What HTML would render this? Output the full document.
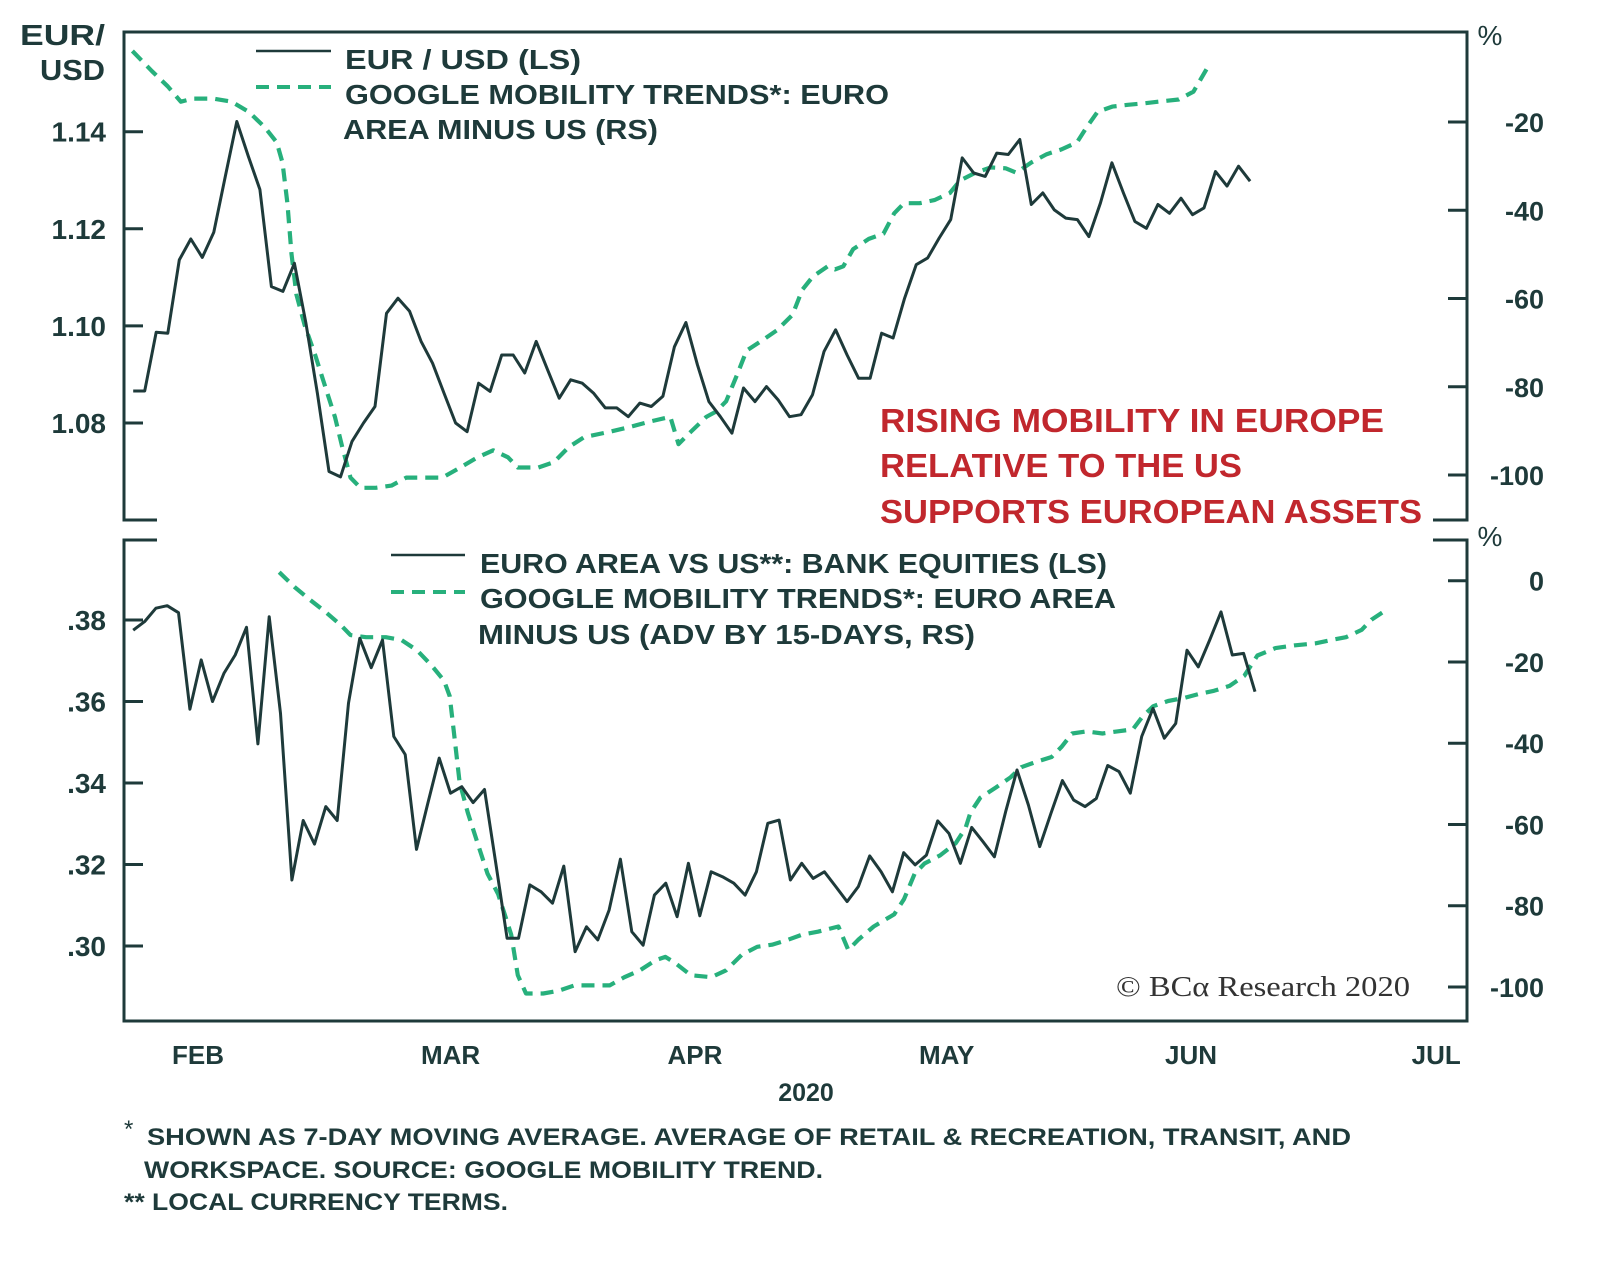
<!DOCTYPE html>
<html><head><meta charset="utf-8"><style>
html,body{margin:0;padding:0;background:#fff;}
svg{display:block;}
text{font-family:"Liberation Sans",sans-serif;}
</style></head><body>
<svg id="chart" width="1600" height="1265" viewBox="0 0 1600 1265" xmlns="http://www.w3.org/2000/svg">
<g stroke="#1e3a3a" stroke-width="3" fill="none">
<polyline points="157,520 124,520 124,32 1467,32 1467,520 1433,520"/>
<polyline points="157,540 124,540 124,1021 1467,1021 1467,540 1433,540"/>
</g>
<g id="axes"></g>
<g id="series"></g>
<g fill="#1e3a3a" font-weight="bold">
<text x="20" y="45" font-size="29" textLength="85" lengthAdjust="spacingAndGlyphs">EUR/</text>
<text x="40" y="80" font-size="29" textLength="65" lengthAdjust="spacingAndGlyphs">USD</text>
<text x="1490" y="45" font-size="28" text-anchor="middle" font-weight="normal">%</text>
<text x="1490" y="546" font-size="28" text-anchor="middle" font-weight="normal">%</text>
<line x1="256" y1="51" x2="331" y2="51" stroke="#1e3a3a" stroke-width="2.5"/>
<line x1="256" y1="87" x2="331" y2="87" stroke="#27b07c" stroke-width="4" stroke-dasharray="13,8"/>
<text x="345" y="69" font-size="28" textLength="236" lengthAdjust="spacingAndGlyphs">EUR / USD (LS)</text>
<text x="345" y="104" font-size="28" textLength="544" lengthAdjust="spacingAndGlyphs">GOOGLE MOBILITY TRENDS*: EURO</text>
<text x="343" y="139" font-size="28" textLength="315" lengthAdjust="spacingAndGlyphs">AREA MINUS US (RS)</text>
<line x1="391" y1="555" x2="465" y2="555" stroke="#1e3a3a" stroke-width="2.5"/>
<line x1="391" y1="592" x2="465" y2="592" stroke="#27b07c" stroke-width="4" stroke-dasharray="13,8"/>
<text x="480" y="573" font-size="28" textLength="627" lengthAdjust="spacingAndGlyphs">EURO AREA VS US**: BANK EQUITIES (LS)</text>
<text x="480" y="608" font-size="28" textLength="636" lengthAdjust="spacingAndGlyphs">GOOGLE MOBILITY TRENDS*: EURO AREA</text>
<text x="478" y="644" font-size="28" textLength="497" lengthAdjust="spacingAndGlyphs">MINUS US (ADV BY 15-DAYS, RS)</text>
<g fill="#c1272d" font-size="33">
<text x="880" y="432" textLength="504" lengthAdjust="spacingAndGlyphs">RISING MOBILITY IN EUROPE</text>
<text x="880" y="477" textLength="362" lengthAdjust="spacingAndGlyphs">RELATIVE TO THE US</text>
<text x="880" y="523" textLength="542" lengthAdjust="spacingAndGlyphs">SUPPORTS EUROPEAN ASSETS</text>
</g>
<text x="1116" y="996" font-size="28" font-weight="normal" fill="#333" style="font-family:'Liberation Serif',serif" textLength="294" lengthAdjust="spacingAndGlyphs">© BCα Research 2020</text>
<text x="806" y="1101" font-size="25" text-anchor="middle">2020</text>
<g font-size="24" font-weight="normal">
<text x="124" y="1137">*</text>
<text x="147" y="1145" textLength="1204" lengthAdjust="spacingAndGlyphs" font-weight="bold">SHOWN AS 7-DAY MOVING AVERAGE. AVERAGE OF RETAIL &amp; RECREATION, TRANSIT, AND</text>
<text x="144" y="1178" textLength="679" lengthAdjust="spacingAndGlyphs" font-weight="bold">WORKSPACE. SOURCE: GOOGLE MOBILITY TREND.</text>
<text x="124" y="1210" textLength="384" lengthAdjust="spacingAndGlyphs" font-weight="bold">** LOCAL CURRENCY TERMS.</text>
</g>
</g>
</svg>
<script>
// ---- data ----
const eurStartDay = 23.1, eurEndDay = 159.3;
const eurUsd = [1.0866,1.0866,1.0987,1.0985,1.1136,1.1179,1.1141,1.1193,1.1308,1.1421,1.1349,1.1281,1.1081,1.1071,1.1129,1.1006,1.0861,1.0700,1.0689,1.0762,1.0800,1.0834,1.1026,1.1057,1.1030,1.0968,1.0923,1.0861,1.0800,1.0782,1.0882,1.0865,1.0940,1.0940,1.0903,1.0968,1.0909,1.0851,1.0889,1.0882,1.0861,1.0831,1.0831,1.0813,1.0841,1.0834,1.0855,1.0957,1.1007,1.0920,1.0844,1.0813,
1.0779,1.0872,1.0844,1.0875,1.0848,1.0813,1.0817,1.0858,1.0947,1.0992,1.0940,1.0892,1.0892,1.0985,1.0975,1.1057,1.1126,1.1140,1.1181,1.1219,1.1346,1.1315,1.1308,1.1356,1.1353,1.1384,1.1250,1.1274,1.1239,1.1222,1.1219,1.1184,1.1253,1.1336,1.1274,1.1215,1.1201,1.1250,1.1232,1.1263,1.1229,1.1243,1.1318,1.1288,1.1329,1.1298];
const mobTopDays = [23.0,25.4,27.3,28.9,30.4,32.9,35.1,37.2,39.1,40.6,41.3,41.9,42.4,43.0,44.0,45.3,46.5,47.7,48.6,49.6,50.8,52.7,54.6,56.4,58.3,60.8,62.6,65.1,67.0,68.8,70.0,72.5,74.4,76.2,78.1,81.2,83.7,86.1,88.6,89.6,91.1,93.0,94.2,95.4,96.7,97.9,99.8,101.6,103.5,104.7,106.0,107.8,108.7,109.7,110.9,112.8,114.6,115.9,117.1,119.0,120.8,122.7,123.9,125.8,127.7,129.5,130.8,132.6,134.5,136.3,138.2,139.4,140.7,142.5,144.4,146.2,148.1,150.6,152.4,154.0];
const mobTop = [-3.9,-8.5,-11.9,-15.4,-14.7,-14.7,-15.4,-17.7,-21.1,-24.6,-29.2,-38.4,-49.9,-59.1,-66.0,-72.9,-79.9,-86.8,-93.7,-100.6,-102.9,-102.9,-102.4,-100.6,-100.6,-100.6,-98.7,-96.0,-94.4,-96.0,-98.3,-98.3,-97.1,-93.7,-91.4,-90.2,-89.1,-87.9,-86.8,-93.0,-90.2,-86.8,-85.6,-83.3,-77.5,-71.8,-69.5,-67.2,-63.7,-58.0,-55.0,-52.7,-53.4,-52.7,-48.8,-46.5,-45.3,-40.7,-38.4,-38.4,-37.7,-36.1,-33.3,-31.5,-30.3,-30.5,-31.5,-29.2,-27.3,-26.2,-24.6,-21.1,-17.7,-16.5,-16.1,-15.8,-15.4,-14.9,-13.1,-8.0];
const bankStartDay = 23.1, bankEndDay = 159.9;
const bankEq = [.3775,.3796,.3829,.3835,.3818,.3581,.3702,.3600,.3669,.3714,.3782,.3496,.3808,.3571,.3162,.3308,.3250,.3342,.3308,.3596,.3755,.3683,.3751,.3514,.3470,.3237,.3350,.3461,.3375,.3391,.3352,.3384,.3203,.3019,.3019,.3150,.3133,.3105,.3196,.2986,.3047,.3015,.3088,.3213,.3035,.3002,.3125,.3154,.3072,.3203,.3074,.3182,.3170,
.3154,.3125,.3182,.3301,.3309,.3162,.3203,.3166,.3182,.3146,.3109,.3146,.3221,.3182,.3133,.3229,.3199,.3223,.3307,.3276,.3203,.3291,.3256,.3219,.3330,.3432,.3346,.3244,.3326,.3406,.3358,.3342,.3362,.3443,.3428,.3375,.3514,.3583,.3510,.3546,.3726,.3685,.3751,.3820,.3714,.3718,.3624];
const mobBotDays = [40.9,42.8,44.6,46.5,48.4,49.6,51.5,53.9,55.8,57.7,59.5,61.0,61.7,62.2,62.9,63.9,65.1,66.3,67.6,68.4,69.2,70.0,71.0,73.1,75.0,76.9,78.7,81.2,83.0,84.9,86.8,88.0,89.2,91.1,93.6,95.4,97.3,99.2,101.0,102.9,104.7,106.6,109.1,110.3,111.5,113.4,115.9,117.1,118.4,119.6,121.5,123.4,124.6,125.2,126.4,128.3,130.1,131.4,133.2,135.1,136.3,137.6,139.4,141.3,143.1,145.0,146.2,147.5,149.3,151.2,153.0,154.9,156.8,158.6,160.2,162.4,164.8,167.3,169.2,171.0,172.9,174.1,176.0];
const mobBot = [2.1,-1.6,-4.6,-7.6,-10.9,-13.4,-13.9,-13.9,-14.6,-17.1,-20.9,-24.6,-28.4,-37.1,-49.6,-57.1,-64.6,-72.1,-77.1,-82.1,-87.1,-97.1,-101.6,-101.6,-100.9,-99.6,-99.6,-99.6,-97.6,-95.9,-93.4,-92.6,-94.1,-97.1,-97.6,-95.9,-92.1,-90.1,-89.6,-88.4,-87.1,-86.4,-85.1,-90.9,-88.4,-85.1,-82.1,-78.4,-72.1,-69.6,-67.6,-64.6,-60.9,-57.1,-53.4,-50.9,-48.4,-45.9,-44.6,-43.4,-40.9,-37.6,-37.1,-37.6,-37.1,-36.6,-33.4,-30.9,-29.6,-28.9,-27.9,-27.1,-25.9,-23.4,-18.4,-16.6,-15.9,-15.4,-14.6,-13.9,-12.1,-9.6,-7.1];
const monthLabels = ["FEB","MAR","APR","MAY","JUN","JUL"];
const monthLabelDays = [31,61.8,91.6,122.3,152.1,182];
const topLeftTicks = [1.14,1.12,1.10,1.08];
const topLeftTickLabels = ["1.14","1.12","1.10","1.08"];
const topRightTicks = [-20,-40,-60,-80,-100];
const bottomLeftTicks = [.38,.36,.34,.32,.30];
const bottomLeftTickLabels = [".38",".36",".34",".32",".30"];
const bottomRightTicks = [0,-20,-40,-60,-80,-100];

// ---- scales ----
const NS = "http://www.w3.org/2000/svg";
const xScale = d => 198 + (d - 31) * 8.2;
const yTopL = v => 131.7 + (1.14 - v) * 4855;
const yTopR = v => 122 + (-20 - v) * 4.4125;
const yBotL = v => 620 + (0.38 - v) * 4075;
const yBotR = v => 580.7 - v * 4.063;
const INK = "#1e3a3a", GREEN = "#27b07c";
const axes = document.getElementById('axes');
const series = document.getElementById('series');

function mk(tag, parent, attrs) {
  const e = document.createElementNS(NS, tag);
  for (const k in attrs) e.setAttribute(k, attrs[k]);
  parent.appendChild(e);
  return e;
}

function leftTicks(ticks, labels, yf, nm) {
  ticks.forEach((t, i) => {
    const y = yf(t);
    const l = mk('line', axes, {x1: 124, x2: 143, y1: y, y2: y, stroke: INK, 'stroke-width': 3});
    
    
    const tx = mk('text', axes, {x: 106, y: y + 10, 'font-size': 28, 'font-weight': 'bold', fill: INK, 'text-anchor': 'end'});
    tx.textContent = labels[i];
    
    
  });
}
function rightTicks(ticks, yf, nm) {
  ticks.forEach(t => {
    const y = yf(t);
    const l = mk('line', axes, {x1: 1448, x2: 1467, y1: y, y2: y, stroke: INK, 'stroke-width': 3});
    
    
    const tx = mk('text', axes, {x: 1544, y: y + 10, 'font-size': 27, 'font-weight': 'bold', fill: INK, 'text-anchor': 'end'});
    tx.textContent = String(t);
    
    
  });
}
leftTicks(topLeftTicks, topLeftTickLabels, yTopL, 'top-left-axis');
rightTicks(topRightTicks, yTopR, 'top-right-axis');
leftTicks(bottomLeftTicks, bottomLeftTickLabels, yBotL, 'bottom-left-axis');
rightTicks(bottomRightTicks, yBotR, 'bottom-right-axis');

monthLabels.forEach((m, i) => {
  const tx = mk('text', axes, {x: xScale(monthLabelDays[i]), y: 1064, 'font-size': 26, 'font-weight': 'bold', fill: INK, 'text-anchor': 'middle'});
  tx.textContent = m;
  
  
});

function indexed(vals, d0, d1, yf) {
  const n = vals.length;
  return vals.map((v, i) => xScale(d0 + (d1 - d0) * i / (n - 1)).toFixed(1) + ',' + yf(v).toFixed(1)).join(' ');
}
function dated(days, vals, yf) {
  return vals.map((v, i) => xScale(days[i]).toFixed(1) + ',' + yf(v).toFixed(1)).join(' ');
}
const solid = {fill: 'none', stroke: INK, 'stroke-width': 3, 'stroke-linejoin': 'round'};
const dash = {fill: 'none', stroke: GREEN, 'stroke-width': 4.2, 'stroke-dasharray': '13,8', 'stroke-linejoin': 'round'};

const p1 = mk('polyline', series, Object.assign({points: dated(mobTopDays, mobTop, yTopR)}, dash));


const p2 = mk('polyline', series, Object.assign({points: indexed(eurUsd, eurStartDay, eurEndDay, yTopL)}, solid));


const p3 = mk('polyline', series, Object.assign({points: dated(mobBotDays, mobBot, yBotR)}, dash));


const p4 = mk('polyline', series, Object.assign({points: indexed(bankEq, bankStartDay, bankEndDay, yBotL)}, solid));


</script>
</body></html>
